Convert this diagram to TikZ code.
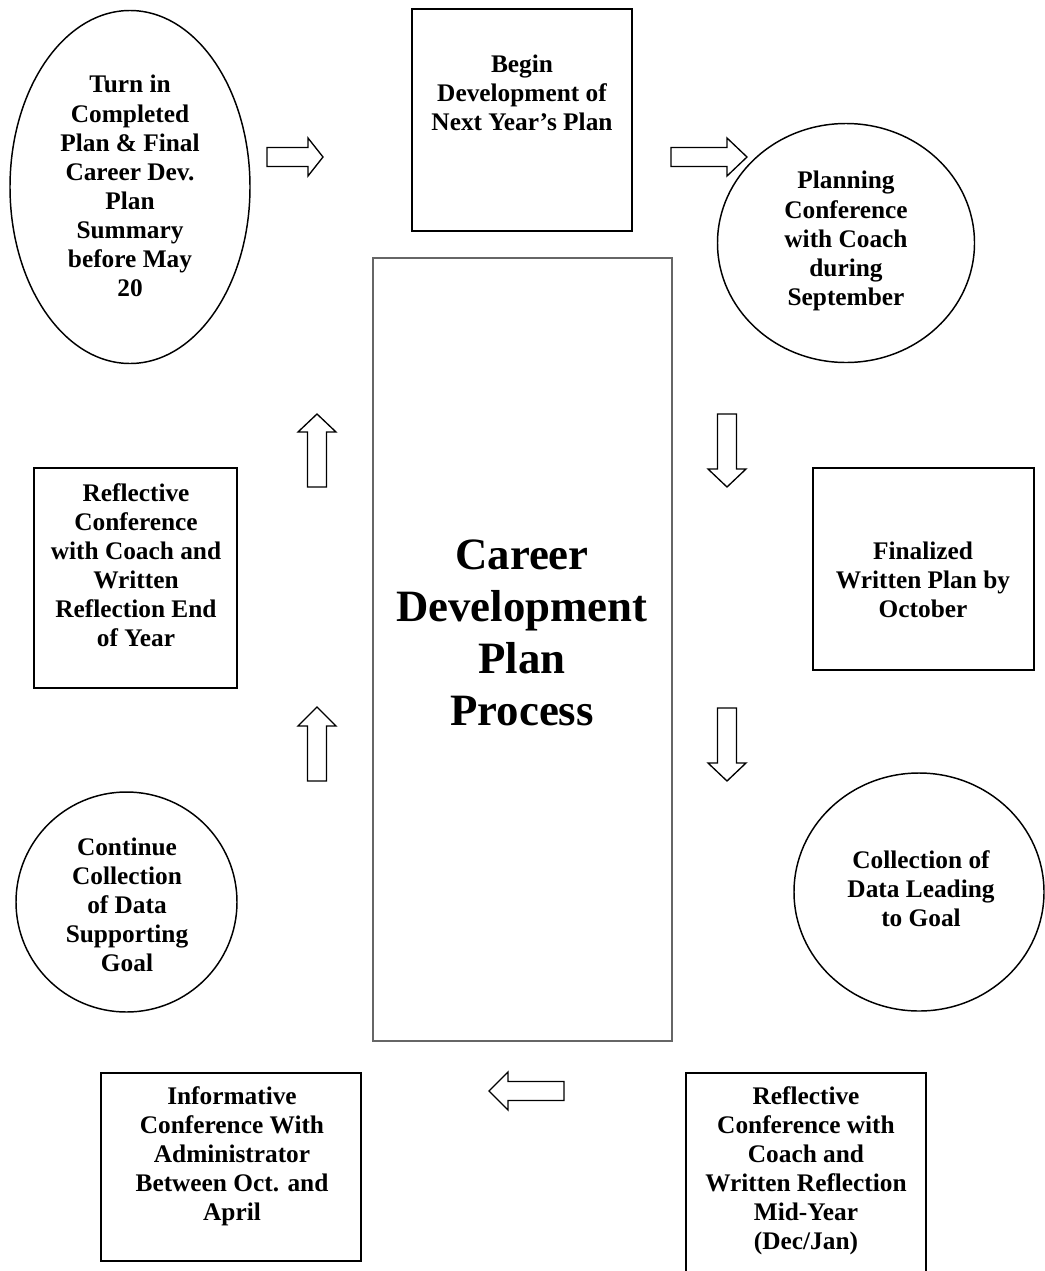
\documentclass[tikz,border=0pt]{standalone}
\usepackage{fontspec}
\setmainfont{Liberation Serif}
\usetikzlibrary{shapes.geometric}

\tikzset{
  stagebox/.style={draw, line width=1.5pt, inner sep=0pt},
  stageoval/.style={draw, ellipse, line width=1.1pt, inner sep=0pt},
  stagetext/.style={align=center, inner sep=0pt, font=\fontsize{19}{21.8}\selectfont\bfseries},
  arrowline/.style={line width=1pt, fill=white, line join=miter},
  % hollow block arrow pointing along +x: length, head length
  pics/blockarrow/.style 2 args={code={
    \draw[arrowline] (0,-9.5) -- ({#1-#2},-9.5) -- ({#1-#2},-19) -- (#1,0)
      -- ({#1-#2},19) -- ({#1-#2},9.5) -- (0,9.5) -- cycle;
  }},
}

\begin{document}
\begin{tikzpicture}[x=0.75pt, y=-0.75pt]
\useasboundingbox (0,0) rectangle (1045,1271);

% centre column
\node[draw=black!60, line width=0.9pt, minimum width=224.25pt, minimum height=587.25pt] (process) at (522.5,649.5) {};
\node[align=center, inner sep=0pt, font=\fontsize{33.6}{39}\selectfont\bfseries] (title) at (522,633) {Career\\Development\\Plan\\Process};

% stages round the cycle
\node[stageoval, minimum width=180pt, minimum height=264.75pt] (turnin) at (130,187) {};
\node[stagetext] at (130,186) {Turn in\\Completed\\Plan \& Final\\Career Dev.\\Plan\\Summary\\before May\\20};

\node[stagebox, minimum width=165pt, minimum height=166.5pt] (begin) at (522,120) {};
\node[stagetext] at (522,93) {Begin\\Development of\\Next Year’s Plan};

\node[stageoval, minimum width=192.75pt, minimum height=179.25pt] (planning) at (846,243) {};
\node[stagetext] at (846,241) {Planning\\Conference\\with Coach\\during\\September};

\node[stagebox, minimum width=165.75pt, minimum height=151.5pt] (finalized) at (923.5,569) {};
\node[stagetext] at (923,580) {Finalized\\Written Plan by\\October};

\node[stageoval, minimum width=187.5pt, minimum height=178.5pt] (collection) at (919,892) {};
\node[stagetext] at (921,889) {Collection of\\Data Leading\\to Goal};

\node[stagebox, minimum width=180pt, minimum height=162.75pt] (midyear) at (806,1181.5) {};
\node[stagetext] at (806,1171) {Reflective\\Conference with\\Coach and\\Written Reflection\\Mid-Year\\(Dec/Jan)};

\node[stagebox, minimum width=195pt, minimum height=141pt] (informative) at (231,1167) {};
\node[stagetext] at (232,1156) {Informative\\Conference With\\Administrator\\Between Oct. and\\April};

\node[stageoval, minimum width=165.75pt, minimum height=165pt] (continue) at (126.5,902) {};
\node[stagetext] at (127,905) {Continue\\Collection\\of Data\\Supporting\\Goal};

\node[stagebox, minimum width=152.25pt, minimum height=165pt] (reflend) at (135.5,578) {};
\node[stagetext] at (136,565) {Reflective\\Conference\\with Coach and\\Written\\Reflection End\\of Year};

% block arrows
\pic at (267,157) {blockarrow={56}{15}};
\pic at (671,157) {blockarrow={76}{20}};
\pic[rotate=-90] at (727,414) {blockarrow={73}{18}};
\pic[rotate=-90] at (727,708) {blockarrow={73}{18}};
\pic[rotate=180] at (564,1091) {blockarrow={75}{19}};
\pic[rotate=90] at (317,781) {blockarrow={74}{19}};
\pic[rotate=90] at (317,487) {blockarrow={73}{18}};
\end{tikzpicture}
\end{document}
